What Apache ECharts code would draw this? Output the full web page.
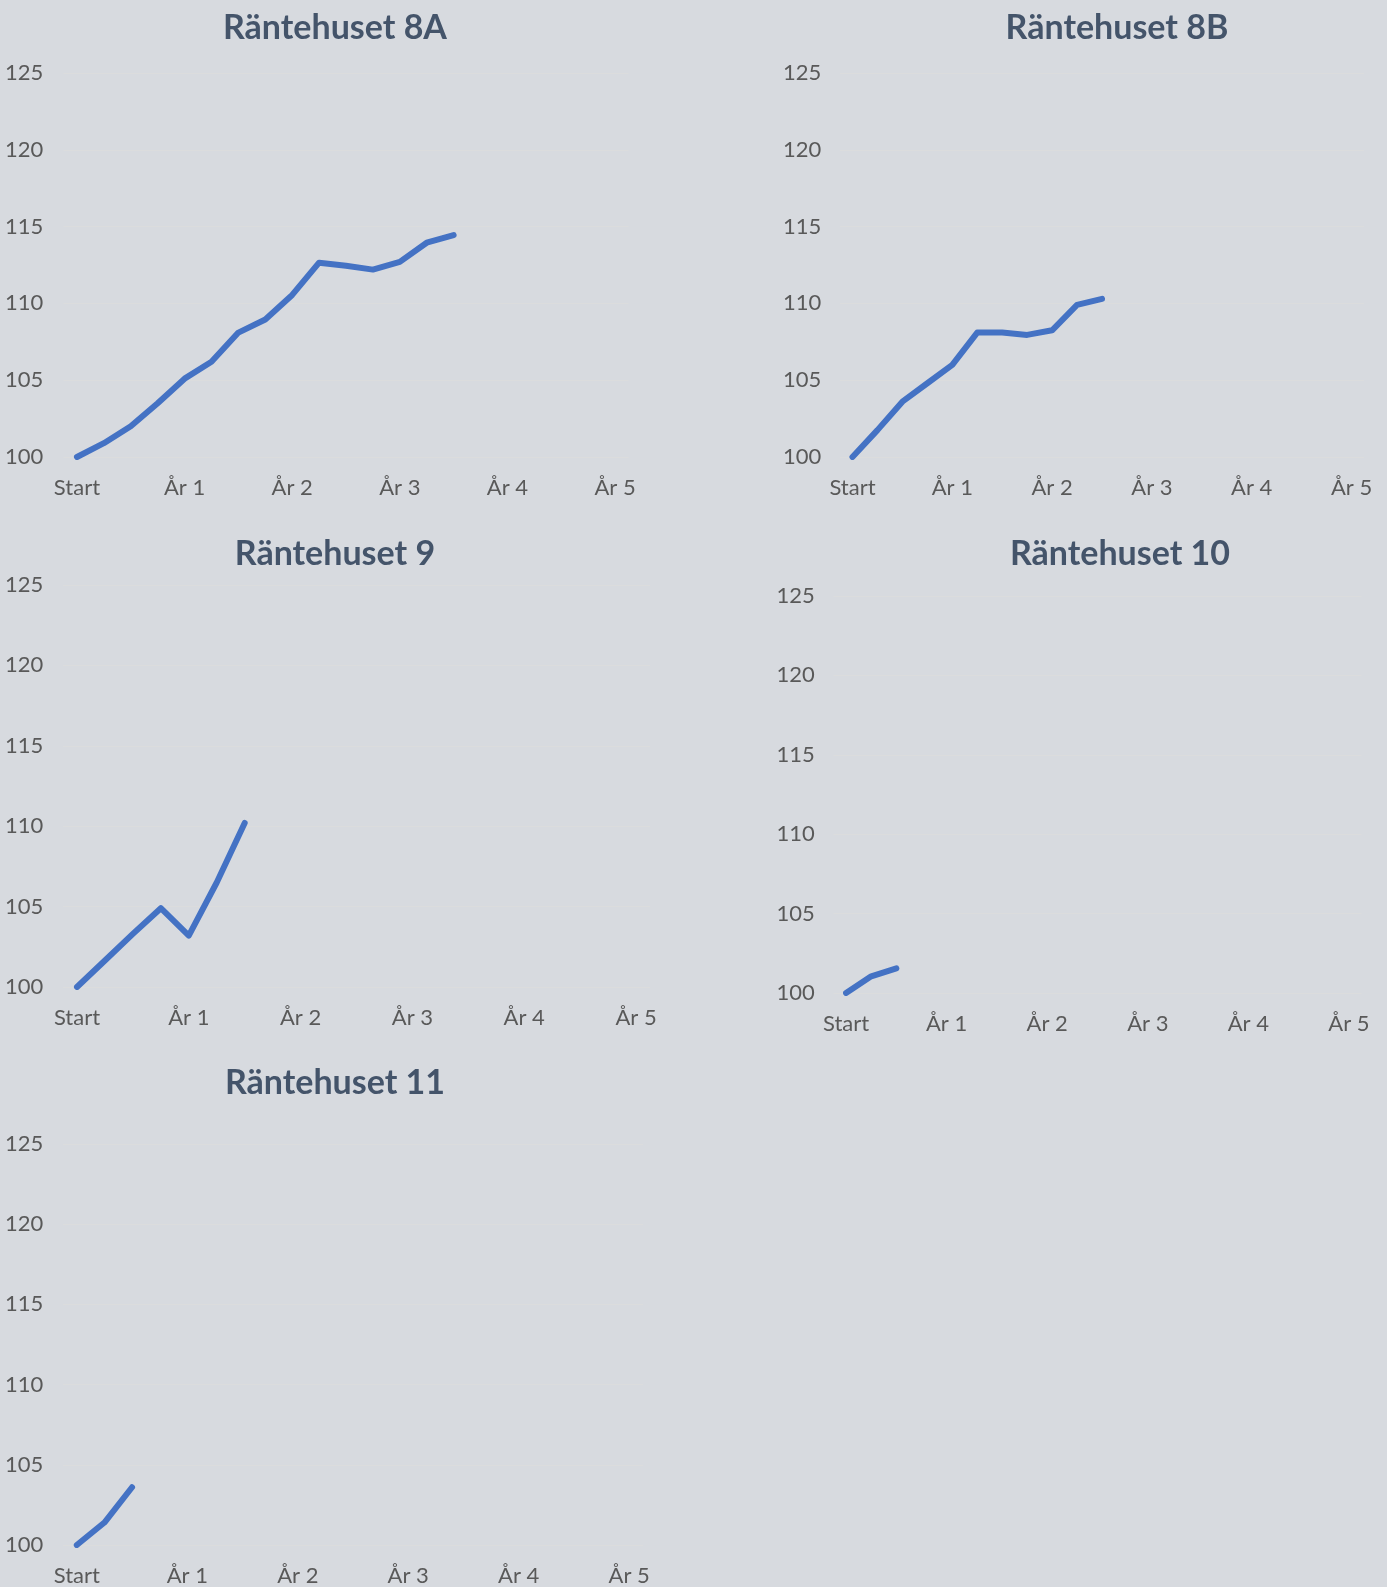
<!DOCTYPE html>
<html>
<head>
<meta charset="utf-8">
<script src="https://cdn.jsdelivr.net/npm/echarts@6/dist/echarts.min.js"></script>
<style>
html,body{margin:0;padding:0;background:#D7DADF;}
#c{width:1387px;height:1587px;}
</style>
</head>
<body>
<div id="c"></div>
<script>
// Categories: Start plus quarters through År 5 (only Start / År n are labelled)
const categories = ['Start','K1','K2','K3','År 1','K1 ','K2 ','K3 ','År 2','K1  ','K2  ','K3  ','År 3','K1   ','K2   ','K3   ','År 4','K1    ','K2    ','K3    ','År 5'];
const titles = ['Räntehuset 8A','Räntehuset 8B','Räntehuset 9','Räntehuset 10','Räntehuset 11'];
const yTicks = [100,105,110,115,120,125];

const s8A = [100, 100.9, 102.0, 103.5, 105.1, 106.2, 108.1, 108.95, 110.55, 112.65, 112.45, 112.2, 112.7, 113.95, 114.45];
const s8B = [100, 101.75, 103.6, 104.8, 106.0, 108.1, 108.1, 107.95, 108.25, 109.9, 110.3];
const s9  = [100, 101.65, 103.3, 104.9, 103.2, 106.5, 110.2];
const s10 = [100, 101.05, 101.55];
const s11 = [100, 101.4, 103.6];

const seriesData = [s8A, s8B, s9, s10, s11];

// layout (pixels)
const grids = [
  {left: 63.5, top: 73, width: 565, height: 384},
  {left: 840, top: 73, width: 524, height: 384},
  {left: 63, top: 585, width: 587, height: 402},
  {left: 833.5, top: 596, width: 528, height: 397},
  {left: 63, top: 1144, width: 580, height: 402}
];
const titlePos = [
  {x: 330, y: 23}, {x: 1112, y: 23}, {x: 330, y: 549}, {x: 1115, y: 549}, {x: 330, y: 1078}
];
const labelLeft = [5, 783, 5, 776.5, 5];

const FONT = 'Lato, "Open Sans", sans-serif';
const chart = echarts.init(document.getElementById('c'), null, {renderer: 'canvas'});

const option = {
  backgroundColor: '#D7DADF',
  animation: false,
  title: titles.map((t, i) => ({
    text: t,
    left: titlePos[i].x,
    top: titlePos[i].y,
    textAlign: 'center',
    textVerticalAlign: 'middle',
    textStyle: {fontFamily: FONT, fontWeight: 'bold', fontSize: 34, color: '#44546A'}
  })),
  grid: grids.map(g => Object.assign({containLabel: false}, g)),
  xAxis: grids.map((g, i) => ({
    type: 'category',
    gridIndex: i,
    data: categories,
    boundaryGap: true,
    axisLine: {show: false},
    axisTick: {show: false},
    axisLabel: {
      interval: 3,
      margin: 20,
      fontFamily: FONT,
      fontSize: 22,
      color: '#595959'
    },
    splitLine: {show: false}
  })),
  yAxis: grids.map((g, i) => ({
    type: 'value',
    gridIndex: i,
    min: yTicks[0],
    max: yTicks[yTicks.length - 1],
    interval: yTicks[1] - yTicks[0],
    axisLine: {show: false},
    axisTick: {show: false},
    axisLabel: {
      align: 'left',
      margin: g.left - labelLeft[i],
      fontFamily: FONT,
      fontSize: 22,
      color: '#595959'
    },
    splitLine: {show: true, lineStyle: {color: '#DBDCDD', width: 1}}
  })),
  series: seriesData.map((d, i) => ({
    type: 'line',
    xAxisIndex: i,
    yAxisIndex: i,
    data: d,
    symbol: 'none',
    lineStyle: {color: '#4472C4', width: 6, cap: 'round', join: 'round'},
    itemStyle: {color: '#4472C4'}
  }))
};
chart.setOption(option);
</script>
</body>
</html>
